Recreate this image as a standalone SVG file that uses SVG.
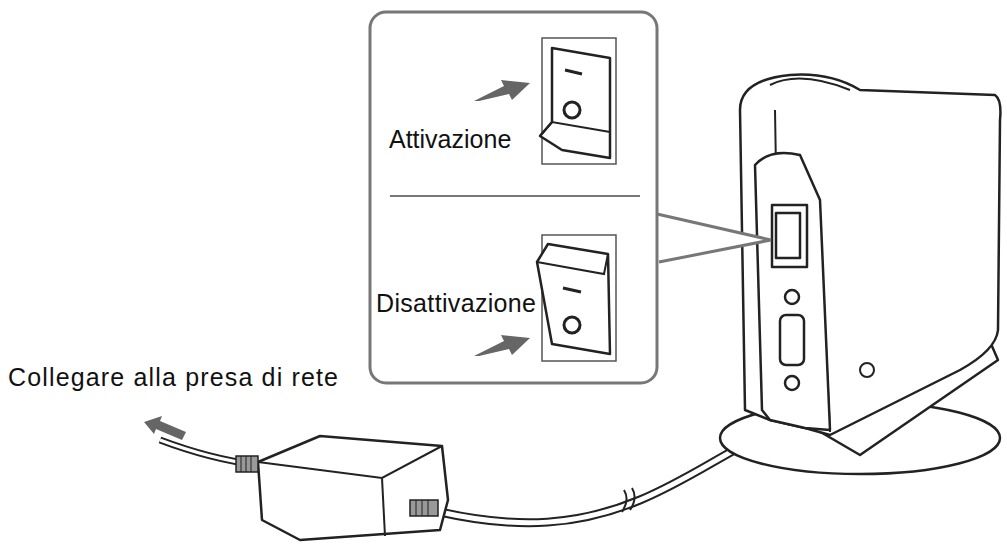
<svg xmlns="http://www.w3.org/2000/svg" width="1007" height="548" viewBox="0 0 1007 548">
<style>
.l{fill:#fff;stroke:#222;stroke-width:2.5;stroke-linejoin:round}
.t{font-family:"Liberation Sans",Arial,sans-serif;font-size:25px;fill:#111}
.g{fill:#666}
.c{fill:none;stroke:#222;stroke-width:2}
.p{fill:#999;stroke:#222;stroke-width:1.5}
</style>
<rect width="1007" height="548" fill="#fff"/>
<g id="cable">
<path d="M160 440 C200 455 230 462 260 465" fill="none" stroke="#222" stroke-width="7"/>
<path d="M160 440 C200 455 230 462 260 465" fill="none" stroke="#fff" stroke-width="3"/>
<path d="M440 512 C520 530 580 525 640 500 C700 475 740 440 800 420" fill="none" stroke="#222" stroke-width="9"/>
<path d="M440 512 C520 530 580 525 640 500 C700 475 740 440 800 420" fill="none" stroke="#fff" stroke-width="5"/>
<path d="M624 490 q6 10 -2 22 M632 488 q6 10 -2 22" class="c" stroke-width="1.5"/>
</g>
<g id="adapter">
<path class="l" d="M258 462 L320 436 L442 446 L448 500 L440 530 L300 540 L262 520 Z"/>
<path class="c" d="M258 462 L382 478 L442 446 M382 478 L385 536"/>
<rect class="p" x="236" y="456" width="22" height="16"/>
<path d="M241 456v16M246 456v16M251 456v16" stroke="#222"/>
<rect class="p" x="410" y="500" width="28" height="16"/>
<path d="M416 500v16M422 500v16M428 500v16" stroke="#222"/>
</g>
<g id="device">
<ellipse class="l" cx="860" cy="438" rx="140" ry="36"/>
<path class="l" d="M800 420 L985 330 L998 360 L860 455 Z"/>
<path class="l" d="M740 110 Q740 80 790 75 Q830 72 860 90 L995 95 Q1002 100 1000 120 L998 330 Q996 350 960 370 L830 435 L805 428 L770 420 L745 410 Z"/>
<path class="c" d="M770 85 Q800 70 850 90 M775 110 L780 410 M820 220 L830 432"/>
<path class="l" d="M755 165 Q770 148 800 155 L820 200 L830 430 L805 428 L770 420 L762 410 Z"/>
<rect class="l" x="772" y="205" width="35" height="62"/>
<rect class="l" x="776" y="213" width="24" height="45"/>
<circle class="l" cx="792" cy="297" r="7"/>
<rect class="l" x="780" y="315" width="24" height="50" rx="6"/>
<circle class="l" cx="792" cy="383" r="7"/>
<circle class="c" cx="867" cy="370" r="7"/>
</g>
<g id="callout">
<path d="M657 214 L771 240 L659 262" fill="#fff" stroke="#777" stroke-width="3"/>
<rect x="370" y="12" width="287" height="371" rx="16" fill="#fff" stroke="#777" stroke-width="3"/>
<line x1="390" y1="196" x2="640" y2="196" stroke="#777" stroke-width="2"/>
</g>
<g id="switch-on">
<rect x="542" y="38" width="74" height="126" fill="#fff" stroke="#555" stroke-width="1.5"/>
<path class="l" d="M552 48 L610 58 L610 158 L562 150 L540 136 L552 122 Z"/>
<path class="c" d="M540 136 L552 122 L610 132"/>
<line x1="565" y1="70" x2="582" y2="74" stroke="#222" stroke-width="3"/>
<circle cx="572" cy="110" r="8" fill="none" stroke="#222" stroke-width="3"/>
<path class="g" d="M474 101 L504 86 L501 80 L530 83 L512 100 L509 94 L479 101 Z"/>
<text class="t" x="389" y="148">Attivazione</text>
</g>
<g id="switch-off">
<rect x="542" y="235" width="74" height="126" fill="#fff" stroke="#555" stroke-width="1.5"/>
<path class="l" d="M537 262 L548 244 L608 254 L610 354 L552 344 Z"/>
<path class="c" d="M537 262 L604 274 L608 254"/>
<line x1="563" y1="288" x2="581" y2="292" stroke="#222" stroke-width="3"/>
<circle cx="572" cy="325" r="8" fill="none" stroke="#222" stroke-width="3"/>
<path class="g" d="M474 356 L504 341 L501 335 L530 338 L512 355 L509 349 L479 356 Z"/>
<text class="t" x="376" y="312" textLength="160">Disattivazione</text>
</g>
<g id="mains">
<text class="t" x="8" y="386" textLength="330">Collegare alla presa di rete</text>
<path class="g" d="M144 422 L162 416 L160 421 L186 432 L182 440 L156 429 L154 434 Z"/>
</g>
</svg>
